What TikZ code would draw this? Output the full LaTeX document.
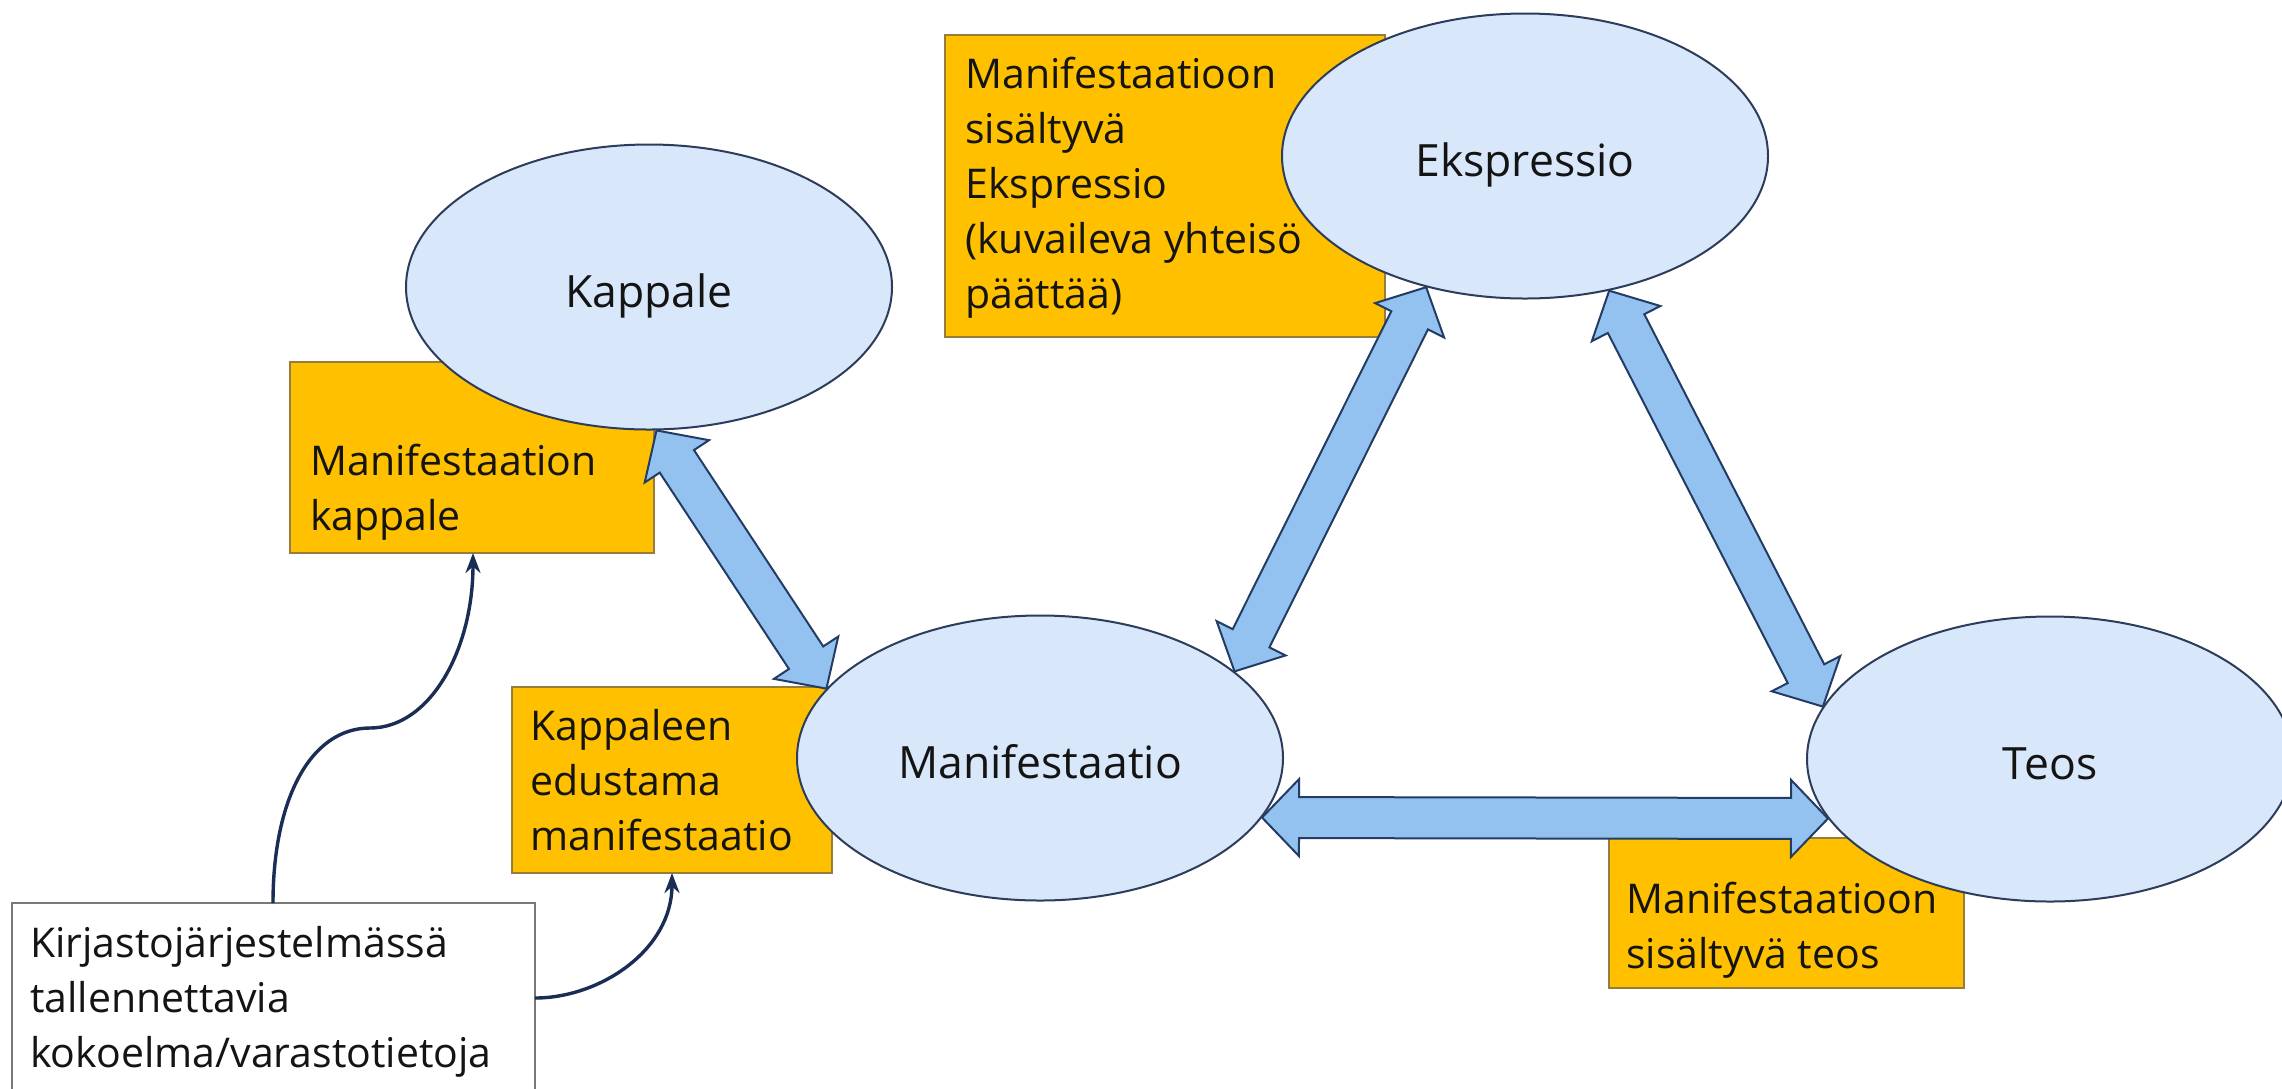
\documentclass[tikz,border=0pt]{standalone}
\usepackage{fontspec}
\setmainfont{Open Sans}
\usetikzlibrary{calc,arrows.meta,shapes.geometric}
\definecolor{orng}{RGB}{255,192,0}
\definecolor{orngline}{RGB}{150,125,60}
\definecolor{ellfill}{RGB}{216,232,250}
\definecolor{ellline}{RGB}{45,60,90}
\definecolor{arrfill}{RGB}{148,194,240}
\definecolor{arrline}{RGB}{35,60,100}
\definecolor{navy}{RGB}{25,45,85}
\definecolor{txt}{RGB}{20,20,20}
\definecolor{wline}{RGB}{120,120,120}
\newcommand\ellfont{\fontsize{44.5}{53}\selectfont}
\newcommand\boxfont{\fontsize{41}{55}\selectfont}
\newcommand\dblarrow[2]{%
 \draw[blockarrow] (#1)
  -- ($(#1)!37pt!(#2)!38.5pt!90:(#2)$)
  -- ($(#1)!37pt!(#2)!20.5pt!90:(#2)$)
  -- ($(#2)!37pt!(#1)!20.5pt!-90:(#1)$)
  -- ($(#2)!37pt!(#1)!38.5pt!-90:(#1)$)
  -- (#2)
  -- ($(#2)!37pt!(#1)!38.5pt!90:(#1)$)
  -- ($(#2)!37pt!(#1)!20.5pt!90:(#1)$)
  -- ($(#1)!37pt!(#2)!20.5pt!-90:(#2)$)
  -- ($(#1)!37pt!(#2)!38.5pt!-90:(#2)$)
  -- cycle;}
\begin{document}
\begin{tikzpicture}[x=1pt,y=-1pt,
  obox/.style={draw=orngline,fill=orng,line width=1.5pt,inner sep=0pt,outer sep=0pt,anchor=north west},
  wbox/.style={draw=wline,fill=white,line width=1.5pt,inner sep=0pt,outer sep=0pt,anchor=north west},
  ellnode/.style={ellipse,draw=ellline,fill=ellfill,line width=2pt,inner sep=0pt,
     minimum width=486pt,minimum height=285pt,font=\ellfont,text=txt,text height=40pt,text depth=0pt},
  btext/.style={font=\boxfont,text=txt,align=left,inner sep=0pt,anchor=north west},
  blockarrow/.style={draw=arrline,fill=arrfill,line width=2pt},
  thinarrow/.style={draw=navy,line width=3.4pt,-{Stealth[length=20pt,width=15pt]}}]
\useasboundingbox (0,0) rectangle (2282,1088);
\clip (0,0) rectangle (2282,1088);
\fill[white] (0,0) rectangle (2282,1088);
% boxes
\node[obox,minimum width=364pt,minimum height=191pt] (bA) at (290,362) {};
\node[obox,minimum width=320pt,minimum height=186pt] (bB) at (512,687) {};
\node[obox,minimum width=440pt,minimum height=302pt] (bC) at (945,35) {};
\node[obox,minimum width=355pt,minimum height=150pt] (bD) at (1609,838) {};
\node[wbox,minimum width=523pt,minimum height=260pt] (kk) at (12,903) {};
% box texts
\node[btext] (tA) at (310,436.5) {\strut Manifestaation\\kappale};
\node[btext] (tB) at (530,701.5) {\strut Kappaleen\\edustama\\manifestaatio};
\node[btext] (tC) at (965,49.5) {\strut Manifestaatioon\\sisältyvä\\Ekspressio\\(kuvaileva yhteisö\\päättää)};
\node[btext] (tD) at (1626,874.5) {\strut Manifestaatioon\\sisältyvä teos};
\node[btext] (tK) at (30,918.5) {\strut Kirjastojärjestelmässä\\tallennettavia\\kokoelma/varastotietoja};
% ellipses
\node[ellnode] (kap) at (649,287) {Kappale};
\node[ellnode] (eks) at (1525,156) {Ekspressio};
\node[ellnode] (man) at (1040,758) {Manifestaatio};
\node[ellnode] (teo) at (2050,759) {Teos};
% arrow end points on the ellipses
\coordinate (k1) at (kap.273);
\coordinate (m1) at (man.162);
\coordinate (e2) at (eks.233);
\coordinate (m2) at (man.24);
\coordinate (e3) at (eks.302);
\coordinate (t3) at (teo.167);
\coordinate (m4) at (man.345);
\coordinate (t4) at (teo.195);
\dblarrow{k1}{m1}
\dblarrow{e2}{m2}
\dblarrow{e3}{t3}
\dblarrow{m4}{t4}
% thin curved arrows
\coordinate (cm) at (370,728);
\draw[thinarrow] ([xshift=261pt]kk.north west) .. controls +(0,-103) and +(-60,0) .. (cm)
  .. controls +(60,0) and +(0,97) .. ([xshift=183pt]bA.south west);
\draw[thinarrow] ([yshift=-95pt]kk.north east) .. controls +(65,0) and +(0,77) .. ([xshift=160pt]bB.south west);
\end{tikzpicture}
\end{document}
